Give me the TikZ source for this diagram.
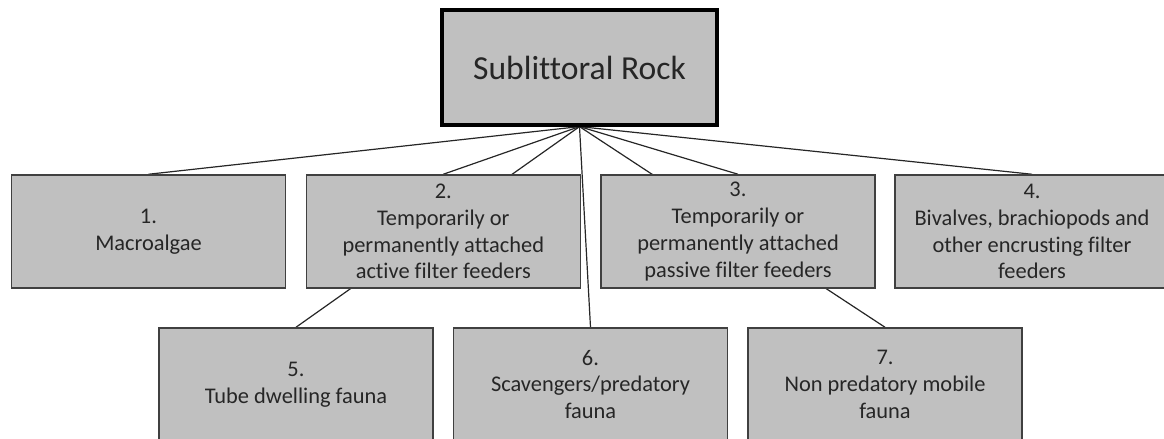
\documentclass[tikz,border=0pt]{standalone}
\usepackage{fontspec}
\setmainfont{Carlito}[Ligatures=NoCommon]
\usetikzlibrary{backgrounds}

\definecolor{boxgray}{RGB}{192,192,192}
\definecolor{edgegray}{RGB}{64,64,64}
\definecolor{textgray}{RGB}{38,38,38}

\tikzset{
    habitat/.style={draw=edgegray, line width=0.75pt, fill=boxgray, text=textgray,
        minimum width=137pt, minimum height=56.5pt, inner sep=0pt, align=center,
        font=\fontsize{11.2pt}{13.4pt}\selectfont},
    toprock/.style={draw=black, line width=1.6pt, fill=boxgray, text=textgray,
        minimum width=137.5pt, minimum height=57.5pt, inner sep=0pt,
        font=\fontsize{16.8pt}{20pt}\selectfont},
    branch/.style={draw=black!85, line width=0.6pt}
}

\begin{document}
\begin{tikzpicture}[x=0.5pt, y=-0.5pt]
    \useasboundingbox (0,0) rectangle (1164,439);

    \node[toprock] (rock) at (579.5, 67.5) {Sublittoral Rock};

    \node[habitat] (macro) at (148.5, 231.5) {1.\\Macroalgae};
    \node[habitat] (active) at (443.3, 231.5) {2.\\Temporarily or\\permanently attached\\active filter feeders};
    \node[habitat] (passive) at (738, 231.5) {3.\\Temporarily or\\permanently attached\\passive filter feeders};
    \node[habitat] (bivalve) at (1032, 231.5) {4.\\Bivalves, brachiopods and\\other encrusting filter\\feeders};

    \node[habitat] (tube) at (296, 384.5) {5.\\Tube dwelling fauna};
    \node[habitat] (scav) at (590.5, 384.5) {6.\\Scavengers/predatory\\fauna};
    \node[habitat] (mobile) at (885, 384.5) {7.\\Non predatory mobile\\fauna};

    % lines run behind the boxes
    \begin{scope}[on background layer]
        \foreach \kid in {macro, active, passive, bivalve, tube, scav, mobile}
            {\draw[branch] (rock.south) -- (\kid.north);}
    \end{scope}
\end{tikzpicture}
\end{document}
